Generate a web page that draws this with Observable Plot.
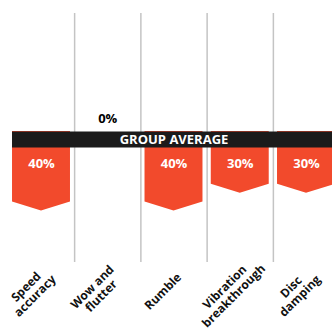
<!DOCTYPE html>
<html>
<head>
<meta charset="utf-8">
<script src="https://cdn.jsdelivr.net/npm/d3@7"></script>
<script src="https://cdn.jsdelivr.net/npm/@observablehq/plot@0.6"></script>
<style>
  html, body { margin: 0; padding: 0; background: #fff; }
  #chart { width: 332px; height: 333px; overflow: hidden; }
</style>
</head>
<body>
<div id="chart"></div>
<script>
const categories = ["Speed\naccuracy", "Wow and\nflutter", "Rumble", "Vibration\nbreakthrough", "Disc\ndamping"];
const values = [40, 0, 40, 30, 30];
const bandLabel = "GROUP AVERAGE";

const barHalf = 0.4375;   // half bar width in column units
const tip = 5.1;          // arrow tip depth in value units

const rows = categories.map((c, i) => ({c, i, v: values[i], label: values[i] + "%"}));
const pts = [];
rows.filter(d => d.v > 0).forEach(d => {
  pts.push({c: d.c, x: d.i - barHalf, y: d.v});
  pts.push({c: d.c, x: d.i, y: d.v + tip});
  pts.push({c: d.c, x: d.i + barHalf, y: d.v});
});

const chart = Plot.plot({
  width: 332,
  height: 333,
  margin: 0,
  x: {domain: [-0.5, 4.5], range: [7.875, 339.125], axis: null},
  y: {domain: [0, 40], range: [131, 201.4], axis: null},
  style: {fontFamily: "'Open Sans', sans-serif", background: "white"},
  marks: [
    Plot.ruleX([0.5, 1.5, 2.5, 3.5], {stroke: "#c4c4c4", strokeWidth: 1.5, insetTop: 13, insetBottom: 71}),
    Plot.areaY(pts, {x: "x", y1: 0, y2: "y", z: "c", fill: "#f24a2c"}),
    Plot.ruleY([0], {x1: -barHalf, x2: 4.6, stroke: "#1b1b1b", strokeWidth: 16, dy: 8}),
    Plot.text([bandLabel], {x: 2, y: 0, text: d => d, dy: 8, fill: "white", fontSize: 13, fontWeight: 700}),
    Plot.text(rows.filter(d => d.v > 0), {x: "i", y: 0, text: "label", dy: 32, fill: "white", fontSize: 13, fontWeight: 700}),
    Plot.text(rows.filter(d => d.v === 0), {x: "i", y: 0, text: "label", dy: -13, fill: "black", fontSize: 13, fontWeight: 700}),
    Plot.text(rows, {x: "i", text: "c", frameAnchor: "bottom", lineAnchor: "middle", textAnchor: "middle", dx: -11, dy: -42, rotate: -45, fontSize: 12, fontWeight: 700, lineHeight: 1.05, fill: "#111"})
  ]
});
document.getElementById("chart").appendChild(chart);
</script>
</body>
</html>
